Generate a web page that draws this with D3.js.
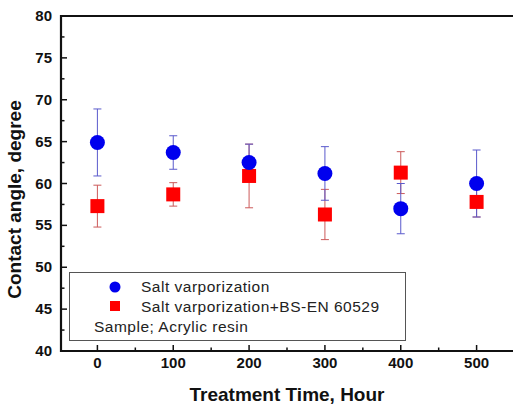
<!DOCTYPE html>
<html>
<head>
<meta charset="utf-8">
<script src="https://cdn.jsdelivr.net/npm/d3@7"></script>
<style>
  body { margin: 0; background: #fff; }
  svg { display: block; font-family: 'Liberation Sans', Arial, sans-serif; }
  .tick-label { font-size: 15px; font-weight: bold; fill: #111; }
  .title { font-size: 19px; font-weight: bold; fill: #111; }
  .legend text { font-size: 15.5px; letter-spacing: 0.5px; fill: #222; }
</style>
</head>
<body>
<svg id="chart" width="513" height="405"></svg>
<script>
// treatment times (hours)
const hours = [0, 100, 200, 300, 400, 500]

// Salt varporization
const saltMean = [64.9, 63.7, 62.5, 61.2, 57.0, 60.0]
const saltErr = [4.0, 2.0, 2.2, 3.2, 3.0, 4.0]

// Salt varporization+BS-EN 60529
const bsMean = [57.3, 58.7, 60.9, 56.3, 61.3, 57.8]
const bsErr = [2.5, 1.4, 3.8, 3.0, 2.5, 1.8]

const xTicks = [0, 100, 200, 300, 400, 500]
const yTicks = [40, 45, 50, 55, 60, 65, 70, 75, 80]

const svg = d3.select('#chart')

const plotL = 61, plotR = 513, plotT = 16, plotB = 351

const xs = d3.scaleLinear().domain([-48, 548]).range([plotL, plotR])
const ys = d3.scaleLinear().domain([40, 80]).range([plotB, plotT])

// ticks (inward)
const xMinor = d3.range(50, 550, 100)
const yMinor = d3.range(42.5, 80, 5)

const ticks = svg.append('g').attr('stroke', '#111').attr('stroke-width', 1.5)
ticks.selectAll('line.xmaj').data(xTicks).join('line')
  .attr('x1', d => xs(d)).attr('x2', d => xs(d))
  .attr('y1', plotB).attr('y2', plotB - 6)
ticks.selectAll('line.xmin').data(xMinor).join('line')
  .attr('x1', d => xs(d)).attr('x2', d => xs(d))
  .attr('y1', plotB).attr('y2', plotB - 3.5)
ticks.selectAll('line.ymaj').data(yTicks).join('line')
  .attr('x1', plotL).attr('x2', plotL + 6)
  .attr('y1', d => ys(d)).attr('y2', d => ys(d))
ticks.selectAll('line.ymin').data(yMinor).join('line')
  .attr('x1', plotL).attr('x2', plotL + 3.5)
  .attr('y1', d => ys(d)).attr('y2', d => ys(d))

// axis frame
svg.append('line').attr('x1', plotL).attr('x2', plotR).attr('y1', plotB).attr('y2', plotB)
  .attr('stroke', '#111').attr('stroke-width', 2.2)
svg.append('line').attr('x1', plotL).attr('x2', plotR).attr('y1', plotT).attr('y2', plotT)
  .attr('stroke', '#111').attr('stroke-width', 2.2)
svg.append('line').attr('x1', plotL).attr('x2', plotL).attr('y1', plotT - 1).attr('y2', plotB + 1)
  .attr('stroke', '#111').attr('stroke-width', 2.2)

// tick labels
svg.append('g').selectAll('text').data(yTicks).join('text')
  .classed('tick-label', true)
  .attr('x', plotL - 9).attr('y', d => ys(d) + 5)
  .attr('text-anchor', 'end')
  .text(d => d)
svg.append('g').selectAll('text').data(xTicks).join('text')
  .classed('tick-label', true)
  .attr('x', d => xs(d)).attr('y', plotB + 17)
  .attr('text-anchor', 'middle')
  .text(d => d)

// axis titles
svg.append('text').classed('title', true)
  .attr('x', 287).attr('y', 401)
  .attr('text-anchor', 'middle')
  .text('Treatment Time, Hour')
svg.append('text').classed('title', true)
  .attr('transform', `translate(21, ${(plotT + plotB) / 2 + 16}) rotate(-90)`)
  .attr('text-anchor', 'middle')
  .text('Contact angle, degree')

function drawErrors(means, errs, color) {
  const g = svg.append('g').attr('stroke', color).attr('stroke-width', 1).attr('fill', 'none')
  const pts = hours.map((h, i) => ({ x: xs(h), lo: ys(means[i] - errs[i]), hi: ys(means[i] + errs[i]) }))
  g.selectAll('line.v').data(pts).join('line')
    .attr('x1', d => d.x).attr('x2', d => d.x).attr('y1', d => d.lo).attr('y2', d => d.hi)
  g.selectAll('line.t').data(pts).join('line')
    .attr('x1', d => d.x - 4).attr('x2', d => d.x + 4).attr('y1', d => d.hi).attr('y2', d => d.hi)
  g.selectAll('line.b').data(pts).join('line')
    .attr('x1', d => d.x - 4).attr('x2', d => d.x + 4).attr('y1', d => d.lo).attr('y2', d => d.lo)
}

drawErrors(bsMean, bsErr, '#cc5a5a')
drawErrors(saltMean, saltErr, '#5a5acc')

svg.append('g').selectAll('rect').data(hours).join('rect')
  .attr('x', (d, i) => xs(d) - 7).attr('y', (d, i) => ys(bsMean[i]) - 7)
  .attr('width', 14).attr('height', 14)
  .attr('fill', '#ff0000')

svg.append('g').selectAll('circle').data(hours).join('circle')
  .attr('cx', d => xs(d)).attr('cy', (d, i) => ys(saltMean[i]))
  .attr('r', 7.5)
  .attr('fill', '#0000ee')

// legend
const lg = svg.append('g').classed('legend', true)
lg.append('rect').attr('x', 69.5).attr('y', 272.5).attr('width', 336).attr('height', 68)
  .attr('fill', '#fff').attr('stroke', '#555').attr('stroke-width', 1)
lg.append('circle').attr('cx', 115).attr('cy', 287).attr('r', 5.5).attr('fill', '#0000ee')
lg.append('rect').attr('x', 110).attr('y', 301).attr('width', 10).attr('height', 10).attr('fill', '#ff0000')
lg.append('text').attr('x', 141).attr('y', 292).text('Salt varporization')
lg.append('text').attr('x', 141).attr('y', 312).text('Salt varporization+BS-EN 60529')
lg.append('text').attr('x', 94).attr('y', 332).text('Sample; Acrylic resin')
</script>
</body>
</html>
